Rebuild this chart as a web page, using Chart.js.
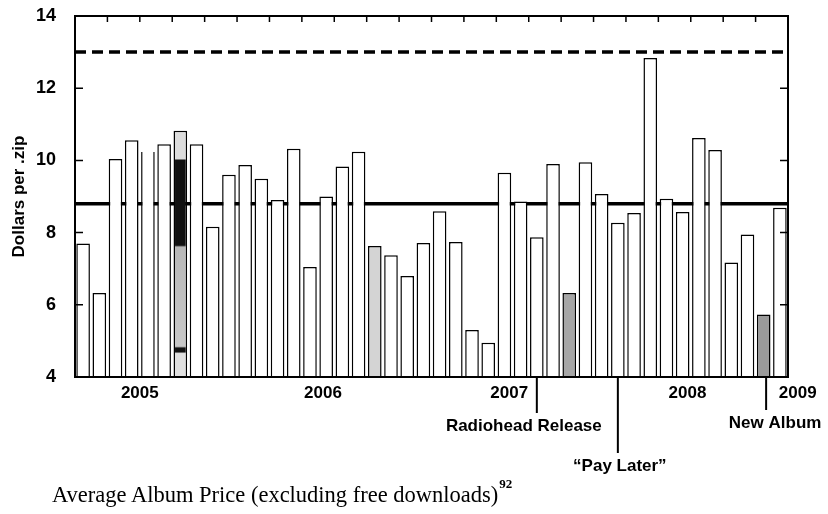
<!DOCTYPE html>
<html>
<head>
<meta charset="utf-8">
<script src="https://cdn.jsdelivr.net/npm/chart.js@4.4.1/dist/chart.umd.min.js"></script>
<style>
  body { margin: 0; background: #fff; }
  #wrap { position: relative; width: 828px; height: 514px; }
  #caption {
    position: absolute; left: 52px; top: 484px;
    font-family: 'Liberation Serif', 'Times New Roman', serif;
    font-size: 22.5px; line-height: 1; color: #000; white-space: nowrap;
  }
  #caption sup {
    font-size: 13px; font-weight: bold; vertical-align: baseline;
    position: relative; top: -14px; margin-left: 1px;
  }
</style>
</head>
<body>
<div id="wrap">
  <canvas id="albumChart" width="828" height="514"></canvas>
  <div id="caption">Average Album Price (excluding free downloads)<sup>92</sup></div>
</div>
<script>
// monthly average album price
const prices = [
  7.70, 6.33, 10.04, 10.56, 10.23, 10.45, 10.82, 10.45, 8.16, 9.60, 9.87,
  9.49, 8.90, 10.32, 7.05, 9.00, 9.83, 10.24, 7.63, 7.37, 6.80, 7.71,
  8.59, 7.74, 5.30, 4.95, 9.66, 8.86, 7.87, 9.90, 6.33, 9.95, 9.07,
  8.27, 8.54, 12.84, 8.94, 8.57, 10.62, 10.29, 7.17, 7.95, 5.73, 8.69
];
const averagePrice = 8.8;
const listPrice = 13.0;

const yTicks = [4, 6, 8, 10, 12, 14];
const yearLabels = ['2005', '2006', '2007', '2008', '2009'];
const yearPositions = [3.5, 14.8, 26.3, 37.3, 44.1];
const eventLabels = ['Radiohead Release', '\u201CPay Later\u201D', 'New Album'];
const eventPositions = [28.0, 33.0, 42.15];

const FONT = "'Liberation Sans', Arial, sans-serif";
const lastIdx = prices.length - 1;

// a few bars are shaded in the original
const shadedBars = { 18: '#d4d4d4', 30: '#a6a6a6', 42: '#9a9a9a' };

function barFill(ctx) {
  const i = ctx.dataIndex;
  if (i === 6) {
    const chart = ctx.chart;
    const area = chart.chartArea;
    if (!area) return '#333';
    const y = chart.scales.y;
    const g = chart.ctx.createLinearGradient(0, y.getPixelForValue(14), 0, y.getPixelForValue(4));
    const stop = v => (14 - v) / 10;
    g.addColorStop(stop(10.9), '#dcdcdc');
    g.addColorStop(stop(10.05), '#dcdcdc');
    g.addColorStop(stop(10.0), '#111');
    g.addColorStop(stop(7.65), '#111');
    g.addColorStop(stop(7.6), '#b8b8b8');
    g.addColorStop(stop(4.85), '#c8c8c8');
    g.addColorStop(stop(4.8), '#111');
    g.addColorStop(stop(4.7), '#111');
    g.addColorStop(stop(4.65), '#e0e0e0');
    g.addColorStop(1, '#e0e0e0');
    return g;
  }
  return shadedBars[i] || '#fff';
}

const framePlugin = {
  id: 'frame',
  afterDatasetsDraw(chart) {
    const { ctx, chartArea: a, scales: { x, y } } = chart;
    ctx.save();
    ctx.strokeStyle = '#000';
    ctx.lineWidth = 2;
    ctx.strokeRect(a.left, a.top, a.right - a.left, a.bottom - a.top);
    ctx.lineWidth = 1.5;
    // inward ticks on left and right
    yTicks.slice(1, -1).forEach(v => {
      const py = y.getPixelForValue(v);
      ctx.beginPath();
      ctx.moveTo(a.left, py); ctx.lineTo(a.left + 8, py);
      ctx.moveTo(a.right, py); ctx.lineTo(a.right - 8, py);
      ctx.stroke();
    });
    // inward ticks along the top, every two months
    for (let v = 1.5; v < lastIdx; v += 2) {
      const px = x.getPixelForValue(v);
      ctx.beginPath();
      ctx.moveTo(px, a.top); ctx.lineTo(px, a.top + 6);
      ctx.stroke();
    }
    ctx.restore();
  },
  afterDraw(chart) {
    const { ctx, chartArea: a, scales: { x } } = chart;
    ctx.save();
    ctx.fillStyle = '#000';
    ctx.strokeStyle = '#000';
    ctx.font = 'bold 17px ' + FONT;
    ctx.textAlign = 'center';
    ctx.textBaseline = 'middle';
    yearLabels.forEach((t, i) => {
      ctx.fillText(t, x.getPixelForValue(yearPositions[i]), a.bottom + 16);
    });
    const drops = [36, 76, 33];
    const shift = [-13, 2, 9];
    ctx.lineWidth = 2;
    eventLabels.forEach((t, i) => {
      const px = x.getPixelForValue(eventPositions[i]);
      ctx.beginPath();
      ctx.moveTo(px, a.bottom);
      ctx.lineTo(px, a.bottom + drops[i]);
      ctx.stroke();
      ctx.fillText(t, px + shift[i], a.bottom + drops[i] + 13);
    });
    ctx.restore();
  }
};

const ctx = document.getElementById('albumChart').getContext('2d');
const albumChart = new Chart(ctx, {
  type: 'bar',
  data: {
    datasets: [
      {
        type: 'bar',
        data: prices.map((v, i) => ({ x: i, y: v })),
        backgroundColor: barFill,
        borderColor: '#000',
        borderWidth: 1.5,
        borderSkipped: c => (c.dataIndex === 4 ? 'top' : 'start'),
        barPercentage: 0.84,
        categoryPercentage: 1,
        order: 0
      },
      {
        type: 'line',
        data: [{ x: -0.5, y: averagePrice }, { x: lastIdx + 0.5, y: averagePrice }],
        borderColor: '#000',
        borderWidth: 3.5,
        pointRadius: 0,
        order: 2
      },
      {
        type: 'line',
        data: [{ x: -0.5, y: listPrice }, { x: lastIdx + 0.5, y: listPrice }],
        borderColor: '#000',
        borderWidth: 3.5,
        borderDash: [11, 6],
        pointRadius: 0,
        order: 2
      }
    ]
  },
  options: {
    responsive: false,
    animation: false,
    layout: { padding: { left: 0, top: 16, right: 40, bottom: 137 } },
    plugins: { legend: { display: false }, tooltip: { enabled: false } },
    scales: {
      x: {
        type: 'linear',
        min: -0.5,
        max: lastIdx + 0.5,
        offset: false,
        display: false
      },
      y: {
        min: 4,
        max: 14,
        afterBuildTicks: s => { s.ticks = yTicks.map(v => ({ value: v })); },
        afterFit: s => { s.width = 75; },
        grid: {
          display: true,
          drawOnChartArea: false,
          drawTicks: true,
          tickLength: 19,
          tickColor: 'rgba(0,0,0,0)'
        },
        border: { display: false },
        ticks: {
          color: '#000',
          padding: 0,
          font: { family: FONT, weight: 'bold', size: 18 }
        },
        title: {
          display: true,
          text: 'Dollars per .zip',
          color: '#000',
          padding: { top: 9, bottom: 0 },
          font: { family: FONT, weight: 'bold', size: 17 }
        }
      }
    }
  },
  plugins: [framePlugin]
});
</script>
</body>
</html>
